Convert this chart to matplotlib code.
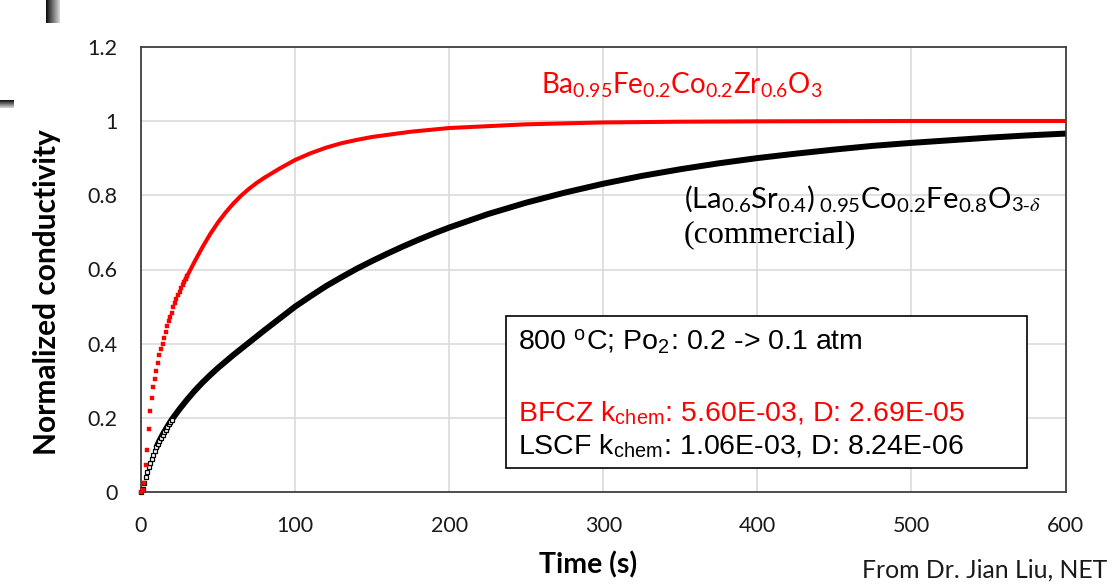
import matplotlib as mpl
mpl.use('Agg')
import numpy as np
import matplotlib.pyplot as plt
from matplotlib.patches import Rectangle

plt.rcParams['font.family'] = ['Lato', 'DejaVu Sans']
plt.rcParams['mathtext.fontset'] = 'stix'

# values: time (s) and normalized conductivity
# BFCZ (red) - 1 s steps at the start, coarser later
bfcz_t = list(range(0, 31)) + [35, 40, 45, 50, 55, 60, 65, 70, 75, 80, 90, 100,
                               110, 120, 130, 140, 150, 175, 200, 250, 300,
                               350, 400, 500, 600]
bfcz_v = [0.0, 0.006, 0.026, 0.074, 0.114, 0.170, 0.218, 0.253, 0.284, 0.304,
          0.326, 0.349, 0.370, 0.387, 0.399, 0.416, 0.433, 0.448, 0.462, 0.473,
          0.484, 0.498, 0.511, 0.520, 0.531, 0.540, 0.549, 0.558, 0.567, 0.575,
          0.583,
          0.623, 0.661, 0.696, 0.727, 0.754, 0.778, 0.799, 0.817, 0.833, 0.847,
          0.872, 0.895, 0.913, 0.928, 0.940, 0.949, 0.957, 0.971, 0.981, 0.991,
          0.996, 0.998, 0.999, 1.0, 1.0]

# LSCF (black)
lscf_t = list(range(0, 21)) + [25, 30, 35, 40, 45, 50, 60, 70, 80, 90, 100,
                               110, 120, 130, 140, 150, 160, 170, 180, 190,
                               200, 225, 250, 275, 300, 325, 350, 375, 400,
                               425, 450, 475, 500, 525, 550, 575, 600]
lscf_v = [0.0, 0.010, 0.025, 0.040, 0.054, 0.067, 0.079, 0.090, 0.101, 0.111,
          0.121, 0.130, 0.139, 0.147, 0.155, 0.162, 0.169, 0.176, 0.183, 0.189,
          0.196,
          0.224, 0.250, 0.274, 0.296, 0.316, 0.335, 0.370, 0.403, 0.436, 0.468,
          0.500, 0.528, 0.555, 0.579, 0.602, 0.623, 0.643, 0.662, 0.680, 0.697,
          0.713, 0.749, 0.780, 0.807, 0.831, 0.852, 0.870, 0.886, 0.900, 0.912,
          0.923, 0.933, 0.941, 0.948, 0.955, 0.961, 0.966]

x_ticks = [0, 100, 200, 300, 400, 500, 600]
y_ticks = [0, 0.2, 0.4, 0.6, 0.8, 1.0, 1.2]
y_ticklabels = ['0', '0.2', '0.4', '0.6', '0.8', '1', '1.2']

W, H = 1114, 584
fig = plt.figure(figsize=(W / 100, H / 100), dpi=100)
ax = fig.add_axes([141 / W, 1 - 492.3 / H, (1065.5 - 141) / W, (492.3 - 46.7) / H])

ax.set_xlim(0, 600)
ax.set_ylim(0, 1.2)
ax.set_xticks(x_ticks)
ax.set_yticks(y_ticks)
ax.set_yticklabels(y_ticklabels)
ax.tick_params(length=0, labelsize=15.5, colors='#1a1a1a')
ax.tick_params(axis='y', pad=17)
ax.tick_params(axis='x', pad=17)
ax.grid(True, color='#d9d9d9', linewidth=1.1)
ax.set_axisbelow(True)
for s in ax.spines.values():
    s.set_color('#404040')
    s.set_linewidth(1.3)

# black series: open squares where points are separate, solid band after
n_l = 21
ax.plot(lscf_t[10:], lscf_v[10:], color='black', linewidth=4.3,
        solid_capstyle='butt', zorder=3)
ax.plot(lscf_t[:n_l], lscf_v[:n_l], linestyle='none', marker='s', markersize=3.4,
        markerfacecolor='white', markeredgecolor='black', markeredgewidth=0.9,
        clip_on=False, zorder=4)

# red series
n_b = 31
ax.plot(bfcz_t[27:], bfcz_v[27:], color='#ff0000', linewidth=2.9,
        solid_capstyle='butt', solid_joinstyle='round', zorder=5)
ax.plot(bfcz_t[:n_b], bfcz_v[:n_b], linestyle='none', marker='s', markersize=2.6,
        markerfacecolor='#ff0000', markeredgecolor='#ff0000', markeredgewidth=0.3,
        clip_on=False, zorder=6)

ax.set_xlabel('Time (s)', fontsize=20.5, fontweight='bold', labelpad=11)
ax.set_ylabel('Normalized conductivity', fontsize=21.5, fontweight='bold', labelpad=19)
ax.xaxis.label.set_x((588 - 141) / 924.5)
ax.yaxis.label.set_y((492.3 - 292) / 445.6)

# curve labels
ax.text(259.6, 1.075, r'$\mathregular{Ba_{0.95}Fe_{0.2}Co_{0.2}Zr_{0.6}O_3}$',
        color='#ff0000', fontsize=20, va='baseline', ha='left')
ax.text(352.4, 0.768,
        r'$\mathregular{(La_{0.6}Sr_{0.4})_{\ 0.95}Co_{0.2}Fe_{0.8}O}_{\mathregular{3\text{-}}\delta}$',
        color='black', fontsize=21, va='baseline', ha='left')
ax.text(352.4, 0.674, '(commercial)', color='black', fontsize=23,
        family='Liberation Serif', va='baseline', ha='left')

# info box
ax.add_patch(Rectangle((236.9, 0.0654), 338.1, 0.41, facecolor='white',
                       edgecolor='black', linewidth=1.2, zorder=7))
box_font = ['Liberation Sans', 'DejaVu Sans']
ax.text(244.6, 0.3835, r'800 $^{\mathregular{o}}$C; Po$_{\mathregular{2}}$: 0.2 -> 0.1 atm',
        color='black', fontsize=20.5, family=box_font, va='baseline', zorder=8)
ax.text(244.6, 0.192, r'BFCZ k$_{\mathregular{chem}}$: 5.60E-03, D: 2.69E-05',
        color='#ff0000', fontsize=20.5, family=box_font, va='baseline', zorder=8)
ax.text(244.6, 0.101, r'LSCF k$_{\mathregular{chem}}$: 1.06E-03, D: 8.24E-06',
        color='black', fontsize=20.5, family=box_font, va='baseline', zorder=8)

# source note
fig.text(862 / W, 1 - 578 / H, 'From Dr. Jian Liu, NET', fontsize=17.8,
         color='#1a1a1a', va='baseline', ha='left')

# slide leftovers at the top left
grad = np.linspace(0.05, 0.85, 32)
bar1 = fig.add_axes([46 / W, 1 - 23 / H, 14 / W, 23 / H])
bar1.imshow(grad[np.newaxis, :], cmap='gray', aspect='auto', vmin=0, vmax=1)
bar1.axis('off')
bar2 = fig.add_axes([0, 1 - 108 / H, 14 / W, 8 / H])
bar2.imshow(grad[:, np.newaxis], cmap='gray', aspect='auto', vmin=0, vmax=1)
bar2.axis('off')

fig.savefig('out.png', dpi=100)
plt.close()
